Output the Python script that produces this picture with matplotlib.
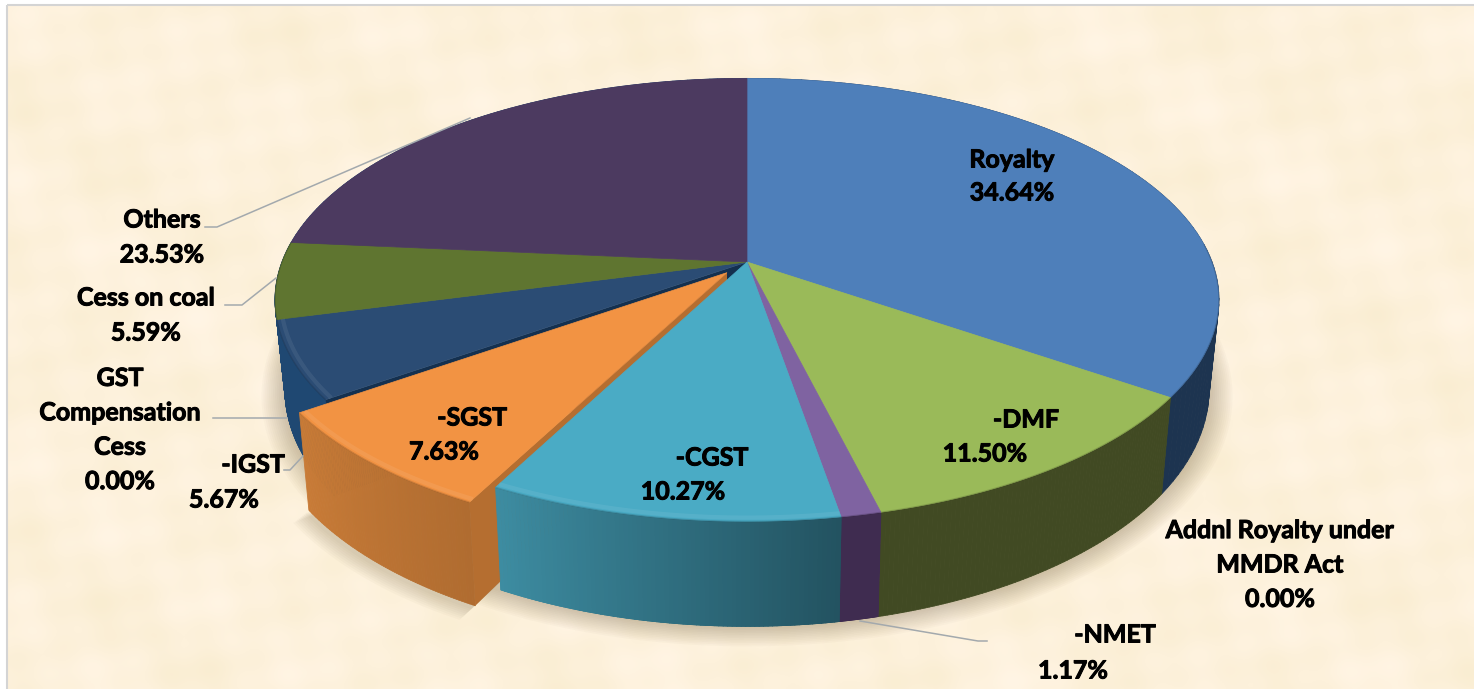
import numpy as np
import matplotlib
matplotlib.use('Agg')
import matplotlib.pyplot as plt
import matplotlib.patheffects as pe
from matplotlib.collections import PolyCollection
from matplotlib.colors import to_rgb
from matplotlib.patches import Polygon, Rectangle

# slices, clockwise from 12 o'clock
names = ['Royalty', '-DMF', '-NMET', '-CGST', '-SGST', '-IGST', 'Cess on coal', 'Others']
shares = [34.64, 11.50, 1.17, 10.27, 7.63, 5.67, 5.59, 23.53]
top_colors = ['#4E7FBA', '#9ABA59', '#7F63A1', '#4AABC5', '#F29343', '#2B4C74', '#5F7530', '#4C3A60']
wall_left = ['#1D3450', '#414A23', '#3F2C50', '#235361', '#B06C30', '#1F4872', '#1F4872', '#1F4872']
wall_right = ['#1D3450', '#414A23', '#3F2C50', '#3D8CA1', '#C87B37', '#1F4872', '#1F4872', '#1F4872']

# labels with no slice of their own
zero_names = ['Addnl Royalty\u00a0under\nMMDR Act', 'GST\nCompensation\nCess']
zero_shares = [0.00, 0.00]

# projection of the tilted disc, in pixels
CX, CY = 747, 262
A, B, K = 465, 215, 0.171
DEPTH = 87
EXPLODE = 0.065
SGST = names.index('-SGST')
IGST = names.index('-IGST')
CGST = names.index('-CGST')


def proj(u, v, z=0):
    w = 1 + K * v
    x = CX + A * u / w * (1 - 0.021 * z)
    y = CY - B * v / w + z * DEPTH / w
    return x, y


edges = np.radians(np.cumsum([0] + shares) * 3.6)


def rim(i, r=1.0, n=80):
    t = np.linspace(edges[i], edges[i + 1], n)
    du, dv = 0, 0
    if i == SGST:
        mid = (edges[i] + edges[i + 1]) / 2
        du, dv = EXPLODE * np.sin(mid), EXPLODE * np.cos(mid)
    return r * np.sin(t) + du, r * np.cos(t) + dv, du, dv


def draw_wall(ax, i, z):
    u, v, _, _ = rim(i)
    xt, yt = proj(u, v)
    xb, yb = proj(u, v, 1)
    c0 = np.array(to_rgb(wall_left[i]))
    c1 = np.array(to_rgb(wall_right[i]))
    quads, cols = [], []
    for j in range(len(u) - 1):
        quads.append([(xt[j], yt[j]), (xt[j + 1], yt[j + 1]), (xb[j + 1], yb[j + 1]), (xb[j], yb[j])])
        cols.append(c0 + (c1 - c0) * j / (len(u) - 2))
    ax.add_collection(PolyCollection(quads, facecolors=cols, edgecolors=cols, linewidths=0.6, zorder=z))


def draw_top(ax, i, z):
    u, v, du, dv = rim(i)
    xs, ys = proj(np.r_[du, u], np.r_[dv, v])
    ax.add_patch(Polygon(np.c_[xs, ys], closed=True, fc=top_colors[i], ec=top_colors[i], lw=0.5, zorder=z))
    # soft bevel along the front edge only
    front = v < 0.1
    if front.sum() > 1:
        if i in (CGST, SGST, IGST):
            ui, vi, _, _ = rim(i, r=0.988)
            ui, vi = ui + du * 0.012, vi + dv * 0.012
            xi, yi = proj(ui, vi)
            ax.plot(xi[front], yi[front], color='white', alpha=0.07, lw=3, zorder=z + 0.1, solid_capstyle='butt')
        xo, yo = proj(u, v)
        ax.plot(xo[front], yo[front], color='black', alpha=0.12, lw=1.0, zorder=z + 0.1, solid_capstyle='butt')


fig = plt.figure(figsize=(14.74, 6.89), dpi=100)
ax = fig.add_axes([0, 0, 1, 1])
ax.set_xlim(0, 1474)
ax.set_ylim(689, 0)
ax.axis('off')
fig.patch.set_facecolor('white')

# parchment background
yy, xx = np.mgrid[0:689:2, 0:1474:2]
mott = (np.sin(xx / 29 + 1.3) * np.sin(yy / 23 + 0.4)
        + 0.7 * np.sin(xx / 13 + yy / 17) * np.sin(yy / 11 - xx / 19 + 2.0)
        + 0.5 * np.sin(xx / 53 - yy / 37 + 0.6))
base = np.array([253, 241, 219]) / 255
tint = np.array([1.6, 1.8, 4.5]) / 255
img = np.clip(base[None, None, :] + mott[:, :, None] * tint, 0, 1)
ax.imshow(img, extent=(8, 1474, 689, 6), aspect='auto', zorder=0)
ax.set_xlim(0, 1474)
ax.set_ylim(689, 0)
ax.add_patch(Rectangle((7, 5), 1470, 690, fc='none', ec='#D4D4D4', lw=1.5, zorder=1))

# soft shadow under the pie
t = np.linspace(0, 2 * np.pi, 240)
for e in np.linspace(0.005, 0.05, 12):
    sx, sy = proj((1 + e) * np.sin(t), (1 + e) * np.cos(t), 1 + e * 0.6)
    ax.add_patch(Polygon(np.c_[sx, sy], closed=True, fc='#6B5A3A', ec='none', alpha=0.028, zorder=2))
u, v, _, _ = rim(SGST)
for e in np.linspace(0.01, 0.04, 8):
    mid = (edges[SGST] + edges[SGST + 1]) / 2
    xb, yb = proj(u + e * np.sin(mid), v + e * np.cos(mid), 1 + e)
    xc, yc = proj(np.array([0.0]), np.array([0.0]), 1)
    ax.add_patch(Polygon(np.c_[np.r_[xc, xb], np.r_[yc, yb]], closed=True, fc='#6B5A3A', ec='none',
                         alpha=0.03, zorder=2))

# walls of the pie body
for i in range(len(shares)):
    if i != SGST:
        draw_wall(ax, i, 3)

# inner face left open by the pulled out slice
ang = edges[IGST]
xf, yf = proj(np.array([0, np.sin(ang), np.sin(ang), 0]), np.array([0, np.cos(ang), np.cos(ang), 0]),
              np.array([0, 0, 1, 1]))
ax.add_patch(Polygon(np.c_[xf, yf], closed=True, fc='#14304F', ec='none', zorder=3.5))

# tops of the body slices
for i in range(len(shares)):
    if i not in (SGST, CGST):
        draw_top(ax, i, 4)

# pulled out slice
draw_wall(ax, SGST, 5)
u, v, du, dv = rim(SGST)
xf, yf = proj(np.array([du, u[0], u[0], du]), np.array([dv, v[0], v[0], dv]), np.array([0, 0, 1, 1]))
ax.add_patch(Polygon(np.c_[xf, yf], closed=True, fc='#B56E30', ec='none', zorder=5.2))
draw_top(ax, SGST, 5.5)

# neighbour that hides the cut face
draw_wall(ax, CGST, 6)
draw_top(ax, CGST, 6.5)

# leader lines
leaders = [
    ([205, 217, 470], [227, 227, 118]),
    ([225, 242, 276], [305, 305, 278]),
    ([213, 287], [418, 418]),
    ([284, 290, 303], [470, 470, 456]),
    ([860, 978, 987], [621, 641, 641]),
]
for lx, ly in leaders:
    ax.plot(lx, ly, color='#A3A9AD', lw=1.1, zorder=7)

# data labels
heavy = [pe.withStroke(linewidth=0.7, foreground='black')]
label_font = dict(family='Lato', fontweight='bold', fontsize=18, color='black', ha='center', va='center',
                  zorder=8, path_effects=heavy)
name_pos = [(1012, 160), (1026, 420), (1115, 635), (712, 458), (472, 418), (253, 465), (146, 298), (162, 220)]
value_pos = [(1012, 193), (985, 454), (1073, 671), (683, 492), (444, 452), (224, 500), (146, 333), (162, 255)]
for nm, sh, np_, vp in zip(names, shares, name_pos, value_pos):
    ax.text(np_[0], np_[1], nm, **label_font)
    ax.text(vp[0], vp[1], f'{sh:.2f}%', **label_font)

zero_pos = [(1280, 565), (120, 430)]
for nm, sh, zp in zip(zero_names, zero_shares, zero_pos):
    ax.text(zp[0], zp[1], f'{nm}\n{sh:.2f}%', linespacing=1.6, **label_font)

fig.savefig('out.png', dpi=100)
